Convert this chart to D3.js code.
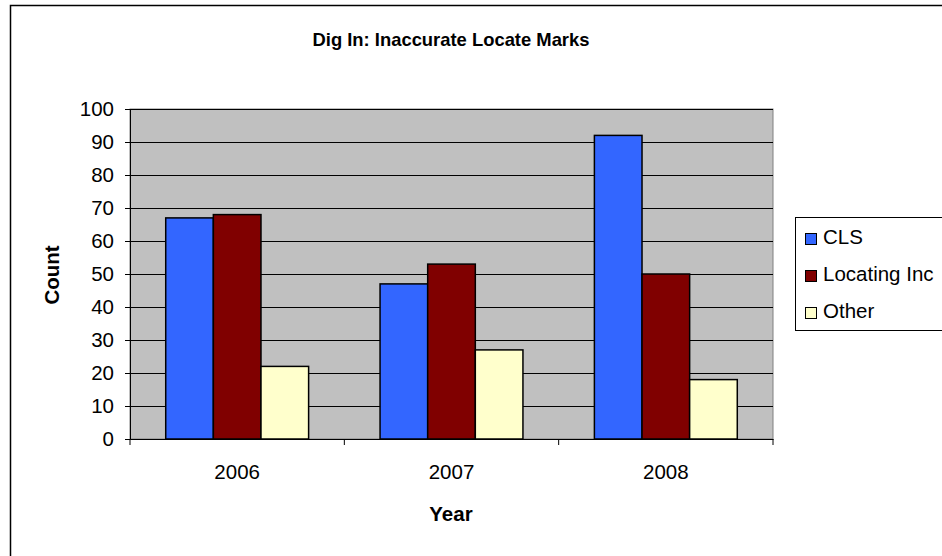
<!DOCTYPE html>
<html>
<head>
<meta charset="utf-8">
<script src="https://cdn.jsdelivr.net/npm/d3@7"></script>
<style>
    body { margin: 0; background: #fff; }
    svg { display: block; font-family: "Liberation Sans", Arial, sans-serif; }
</style>
</head>
<body>
<svg id="chart" width="942" height="556"></svg>
<script>
const years = ["2006", "2007", "2008"];
const seriesNames = ["CLS", "Locating Inc", "Other"];
const clsValues = [67, 47, 92];
const locatingValues = [68, 53, 50];
const otherValues = [22, 27, 18];
const yTicks = [0, 10, 20, 30, 40, 50, 60, 70, 80, 90, 100];
const colors = ["#3366FF", "#800000", "#FFFFCC"];

const seriesValues = [clsValues, locatingValues, otherValues];
const svg = d3.select("#chart");
const fontSize = 20.5;

// рамка всієї діаграми (справа і знизу виходить за кадр)
svg.append("rect")
    .attr("x", 10.5).attr("y", 5.5)
    .attr("width", 960).attr("height", 600)
    .attr("fill", "#fff").attr("stroke", "#000").attr("stroke-width", 1.5);

const plot = { left: 130, right: 773, top: 109, bottom: 439 };

const x = d3.scaleBand().domain(years).range([plot.left, plot.right]);
const xInner = d3.scaleBand().domain(seriesNames)
    .range([0, x.bandwidth()]).paddingInner(0).paddingOuter(0.75);
const y = d3.scaleLinear().domain([0, 100]).range([plot.bottom, plot.top]);

// фон області побудови
svg.append("rect")
    .attr("x", plot.left).attr("y", plot.top)
    .attr("width", plot.right - plot.left).attr("height", plot.bottom - plot.top)
    .attr("fill", "#C0C0C0").attr("stroke", "#808080").attr("stroke-width", 1);

// сітка
svg.append("g").selectAll("line")
    .data(yTicks.filter(d => d > 0))
    .join("line")
    .attr("x1", plot.left).attr("x2", plot.right)
    .attr("y1", d => Math.round(y(d)) + 0.5).attr("y2", d => Math.round(y(d)) + 0.5)
    .attr("stroke", "#000").attr("stroke-width", 1);

// стовпчики
const rows = years.map((yr, i) => ({ year: yr, values: seriesNames.map((s, j) => ({ s, j, v: seriesValues[j][i] })) }));
svg.append("g").selectAll("g")
    .data(rows)
    .join("g")
    .attr("transform", d => `translate(${x(d.year)},0)`)
    .selectAll("rect")
    .data(d => d.values)
    .join("rect")
    .attr("x", d => xInner(d.s))
    .attr("y", d => y(d.v))
    .attr("width", xInner.bandwidth())
    .attr("height", d => y(0) - y(d.v))
    .attr("fill", d => colors[d.j])
    .attr("stroke", "#000").attr("stroke-width", 1.5);

// вісь Y
const yAxis = svg.append("g")
    .attr("transform", `translate(${plot.left},0)`)
    .call(d3.axisLeft(y).tickValues(yTicks).tickSize(5).tickPadding(11));
yAxis.select(".domain").attr("stroke", "#000");
yAxis.selectAll("text").attr("font-size", fontSize).attr("fill", "#000")
    .attr("font-family", "Liberation Sans, Arial, sans-serif");

// вісь X
const xAxis = svg.append("g")
    .attr("transform", `translate(0,${plot.bottom})`)
    .call(d3.axisBottom(x).tickSize(0).tickPadding(25));
xAxis.select(".domain").attr("stroke", "#000");
xAxis.selectAll("text").attr("font-size", fontSize).attr("fill", "#000")
    .attr("font-family", "Liberation Sans, Arial, sans-serif");
xAxis.selectAll(".sep")
    .data(d3.range(years.length + 1))
    .join("line")
    .attr("class", "sep")
    .attr("x1", i => plot.left + i * x.step()).attr("x2", i => plot.left + i * x.step())
    .attr("y1", 0).attr("y2", 6)
    .attr("stroke", "#000");

// підписи
svg.append("text")
    .attr("x", 451).attr("y", 46)
    .attr("text-anchor", "middle")
    .attr("font-size", 18.4).attr("font-weight", "bold")
    .text("Dig In: Inaccurate Locate Marks");

svg.append("text")
    .attr("x", 451).attr("y", 521)
    .attr("text-anchor", "middle")
    .attr("font-size", fontSize).attr("font-weight", "bold")
    .text("Year");

svg.append("text")
    .attr("transform", "translate(59,275) rotate(-90)")
    .attr("text-anchor", "middle")
    .attr("font-size", fontSize).attr("font-weight", "bold")
    .text("Count");

// легенда
const legend = svg.append("g").attr("transform", "translate(795,217)");
legend.append("rect")
    .attr("x", 0.5).attr("y", 0.5).attr("width", 160).attr("height", 113)
    .attr("fill", "#fff").attr("stroke", "#000").attr("stroke-width", 1);
const item = legend.selectAll(".item")
    .data(seriesNames)
    .join("g")
    .attr("class", "item")
    .attr("transform", (d, i) => `translate(0,${27 + i * 37})`);
item.append("rect")
    .attr("x", 10.5).attr("y", -10.5).attr("width", 11).attr("height", 11)
    .attr("fill", (d, i) => colors[i]).attr("stroke", "#000").attr("stroke-width", 1);
item.append("text")
    .attr("x", 28).attr("y", 0)
    .attr("font-size", fontSize)
    .text(d => d);
</script>
</body>
</html>
